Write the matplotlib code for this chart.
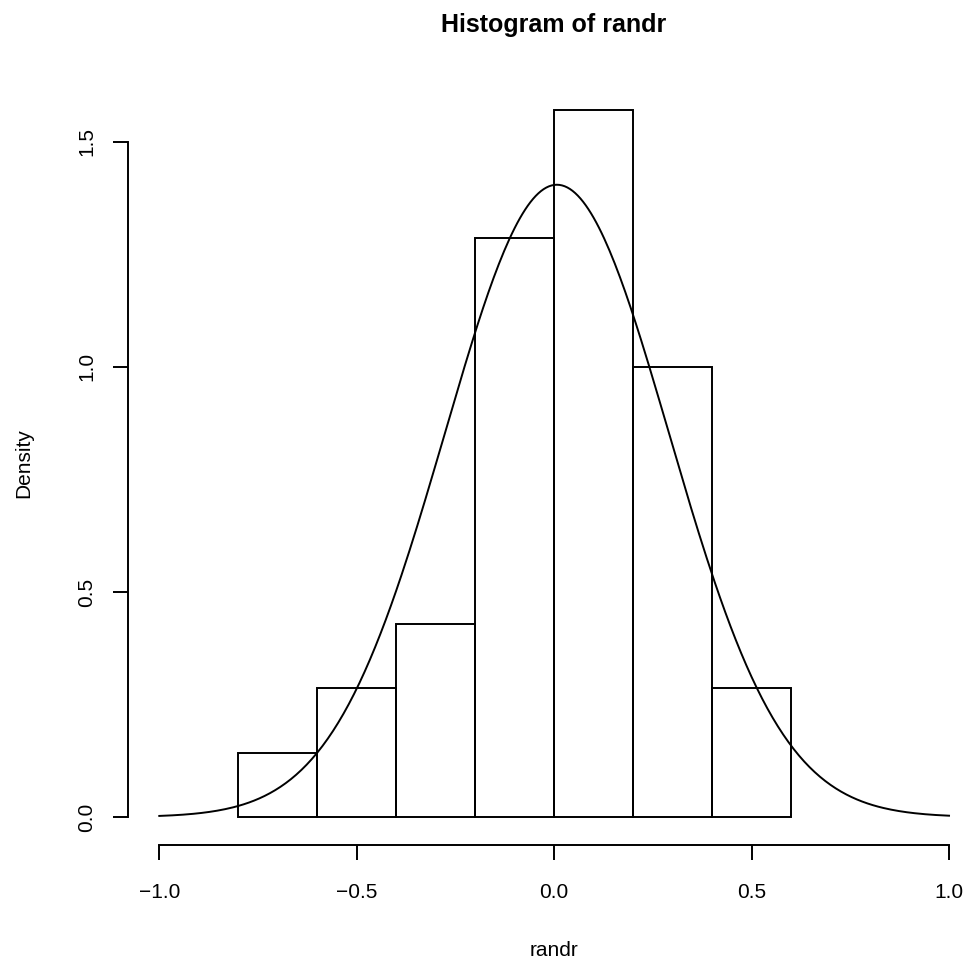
import matplotlib
matplotlib.use("Agg")
import matplotlib.pyplot as plt
import numpy as np

# histogram of randr: bin edges and density of each bin (counts / (n * width))
bin_edges = [-0.8, -0.6, -0.4, -0.2, 0.0, 0.2, 0.4, 0.6]
densities = [1/7, 2/7, 3/7, 9/7, 11/7, 7/7, 2/7]

# normal curve laid over the histogram
curve_mean = 0.007
curve_sd = 0.284

x_ticks = [-1.0, -0.5, 0.0, 0.5, 1.0]
x_ticklabels = ["\u22121.0", "\u22120.5", "0.0", "0.5", "1.0"]
y_ticks = [0.0, 0.5, 1.0, 1.5]
y_ticklabels = ["0.0", "0.5", "1.0", "1.5"]

W, H = 971, 963
plt.rcParams['font.family'] = ['Liberation Sans', 'DejaVu Sans']

fig = plt.figure(figsize=(W / 100, H / 100), dpi=100)
# plot region in pixels: left 127.7, right 980.6, top 81.4, bottom 845.4
ax = fig.add_axes([127.7 / W, 1 - 845.4 / H, (980.6 - 127.7) / W, (845.4 - 81.4) / H])

lw = 1.4
widths = np.diff(bin_edges)
ax.bar(bin_edges[:-1], densities, width=widths, align='edge',
       fill=False, edgecolor='black', linewidth=lw)

xs = np.linspace(-1, 1, 301)
ys = np.exp(-0.5 * ((xs - curve_mean) / curve_sd) ** 2) / (curve_sd * np.sqrt(2 * np.pi))
ax.plot(xs, ys, color='black', linewidth=lw)

ax.set_xlim(-1.08, 1.08)
top = max(densities)
ax.set_ylim(-0.04 * top, top * 1.04)

for s in ['top', 'right']:
    ax.spines[s].set_visible(False)
ax.spines['left'].set_bounds(0, 1.5)
ax.spines['bottom'].set_bounds(-1, 1)
ax.spines['left'].set_linewidth(lw)
ax.spines['bottom'].set_linewidth(lw)

ax.set_xticks(x_ticks)
ax.set_xticklabels(x_ticklabels)
ax.set_yticks(y_ticks)
ax.set_yticklabels(y_ticklabels, rotation=90, va='center', ha='right')
ax.tick_params(axis='both', length=10.8, width=lw, labelsize=15)
ax.tick_params(axis='x', pad=16)
ax.tick_params(axis='y', pad=12)

fig.text(554 / W, 1 - 32 / H, "Histogram of randr", ha='center', va='baseline',
         fontsize=18, fontweight='bold')
fig.text(554 / W, 1 - 956 / H, "randr", ha='center', va='baseline', fontsize=15)
fig.text(33 / W, 1 - 463 / H, "Density", ha='right', va='center', rotation=90,
         fontsize=15)

fig.savefig("out.png", dpi=100)
